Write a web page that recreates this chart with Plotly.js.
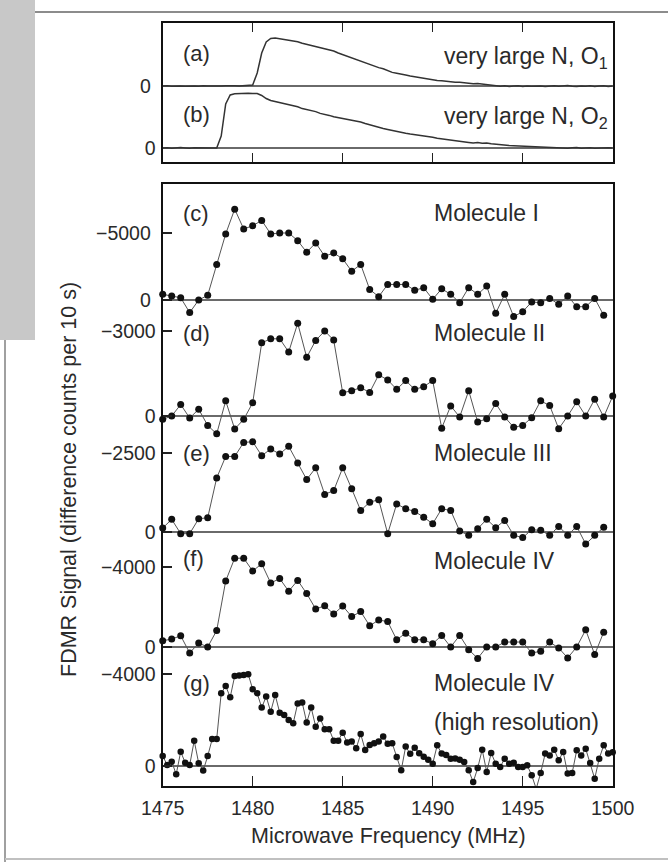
<!DOCTYPE html>
<html>
<head>
<meta charset="utf-8">
<script src="https://cdn.plot.ly/plotly-3.0.1.min.js"></script>
<style>
html,body{margin:0;padding:0;background:#ffffff;}
#chart{width:668px;height:862px;}
</style>
</head>
<body>
<div id="chart"></div>
<script>
// ---------------- DATA ----------------
// frequency grids (MHz)
const freqCoarse = [1475,1475.5,1476,1476.5,1477,1477.5,1478,1478.5,1479,1479.5,1480,1480.5,1481,1481.5,1482,1482.5,1483,1483.5,1484,1484.5,1485,1485.5,1486,1486.5,1487,1487.5,1488,1488.5,1489,1489.5,1490,1490.5,1491,1491.5,1492,1492.5,1493,1493.5,1494,1494.5,1495,1495.5,1496,1496.5,1497,1497.5,1498,1498.5,1499,1499.5,1500];
const freqFine = [1475,1475.25,1475.5,1475.75,1476,1476.25,1476.5,1476.75,1477,1477.25,1477.5,1477.75,1478,1478.25,1478.5,1478.75,1479,1479.25,1479.5,1479.75,1480,1480.25,1480.5,1480.75,1481,1481.25,1481.5,1481.75,1482,1482.25,1482.5,1482.75,1483,1483.25,1483.5,1483.75,1484,1484.25,1484.5,1484.75,1485,1485.25,1485.5,1485.75,1486,1486.25,1486.5,1486.75,1487,1487.25,1487.5,1487.75,1488,1488.25,1488.5,1488.75,1489,1489.25,1489.5,1489.75,1490,1490.25,1490.5,1490.75,1491,1491.25,1491.5,1491.75,1492,1492.25,1492.5,1492.75,1493,1493.25,1493.5,1493.75,1494,1494.25,1494.5,1494.75,1495,1495.25,1495.5,1495.75,1496,1496.25,1496.5,1496.75,1497,1497.25,1497.5,1497.75,1498,1498.25,1498.5,1498.75,1499,1499.25,1499.5,1499.75,1500];

// (a) very large N, O1  (arbitrary units, baseline 0)
const signalA = [0,0.3,-0.2,0.2,0,-0.3,0.2,0.1,-0.2,0.3,0,-0.2,0.2,0,0.3,-0.1,0.2,0,0.4,0.5,
1.0,13,33,44,47.5,48,47.3,46.5,45.8,44.8,44.2,42.8,41.7,40.8,39.4,38.0,37.5,35.8,35.0,33.0,31.3,30.2,28.5,26.8,25.0,23.4,21.6,20.2,18.4,17.2,15.3,13.6,12.8,11.6,11.0,10.0,9.2,8.5,7.6,7.0,6.3,5.5,5.2,4.6,4.5,3.8,3.7,3.0,2.6,2.3,2.5,1.8,1.6,0.9,0.4,-0.3,
0.2,-0.4,0,0.3,-0.5,0.1,-0.3,0.2,0,-0.6,0.2,0.3,-0.2,0,0.4,-0.3,-0.6,0.1,-0.2,0.3,-0.4,0,0.2,-0.5,0.1];

// (b) very large N, O2
const signalB = [0,0.3,-0.2,0.2,0.4,0,-0.3,0.2,0,0.3,-0.2,0.1,
0,12,44,53, 54.2,54.5,54.6,54.7, 54.6,54.4,52.5,49.5, 47.5,46.5,45.5,44.0, 43.3,42.0,41.2,39.4,
38.3,37.6,36.4,34.6, 33.9,32.6,31.2,30.4, 29.3,28.6,27.7,27.0, 26.0,24.5,23.3,21.4, 20.6,19.6,18.6,17.5,
16.8,15.7,14.7,13.9, 13.4,12.5,11.8,11.2, 10.7,9.8,9.1,8.5, 8.0,7.3,6.8,6.0, 5.6,5.0,5.4,4.8,
5.0,4.2,3.6,3.2, 3.0,2.4,2.2,2.0, 1.5,1.2,1.4,0.8, 0.6,0.2,0.5,-0.2, 0.3,0,-0.3,0.2, 0.4,-0.2,0,0.3,
-0.3,0.1,-0.2,0.2, 0];

// (c) Molecule I (difference counts per 10 s)
const moleculeI = [-420,-300,-170,940,0,-350,-2650,-4930,-6780,-5300,-5540,-5940,-4930,-5000,-5000,-4430,-3560,-4260,-3270,-3510,-3070,-2150,-2650,-790,-250,-1160,-1160,-1160,-720,-920,-50,-840,-420,200,-920,-420,-1040,990,-420,1240,870,150,200,-120,320,-300,500,500,-120,1140];

// (d) Molecule II
const moleculeII = [119,0,-405,71,-238,333,630,-535,460,119,-464,-2582,-2725,-2725,-2261,-3272,-2071,-2666,-3000,-2678,-821,-893,-1000,-833,-1452,-1273,-940,-1250,-940,-1035,-1250,430,-357,36,-893,214,95,-440,36,400,333,60,-535,-369,450,0,-500,0,-595,36,-702];

// (e) Molecule III
const moleculeIII = [-126,-400,52,52,-420,-450,-1710,-2390,-2390,-2835,-2856,-2415,-2625,-2470,-2710,-2180,-1660,-2030,-1190,-1310,-2030,-1365,-680,-945,-1020,52,-890,-735,-650,-470,-260,-735,-680,-30,105,-105,-400,-136,-367,105,178,-73,-52,105,-178,105,-178,380,100,-150];

// (f) Molecule IV
const moleculeIV = [-314,-396,-561,297,-198,0,-825,-3300,-4440,-4440,-3800,-4160,-3200,-3420,-2790,-3330,-2670,-1900,-2060,-1650,-2050,-1520,-1770,-1060,-1350,-1270,-363,-693,-363,-363,-165,-578,0,-578,132,570,0,0,-248,-248,-248,297,215,-248,50,545,0,-858,380,-743];

// (g) Molecule IV (high resolution)
const moleculeIVhr = [-440,-40,-190,360,-620,-145,-40,-1100,-120,200,-430,-1170,-1170,-3160,-3480,-2990,-3910,-3940,-3960,-3990,
-3340,-3160,-2540,-3020,-2360,-3090,-2320,-2220,-2000,-1860,-2720,-2760,-1890,-2540,-1710,-2070,-1600,-1600,-1100,-1100,
-1450,-1020,-1060,-770,-1390,-700,-910,-990,-1060,-1280,-970,-990,-390,190,-850,-530,-790,-550,-400,-270,
-100,-900,-540,-480,-320,-330,-270,-170,190,700,90,-710,260,-570,-100,40,-320,-100,-140,40,
40,-30,400,990,300,-540,-460,-710,-250,-610,330,300,-680,-460,-750,-130,550,-320,-900,-540,-600];

// tick labels
const xTickVals = [1475,1480,1485,1490,1495,1500];
const panelTicks = [
  {vals:[-5000,0], text:['\u22125000','0']},
  {vals:[-3000,0], text:['\u22123000','0']},
  {vals:[-2500,0], text:['\u22122500','0']},
  {vals:[-4000,0], text:['\u22124000','0']},
  {vals:[-4000,0], text:['\u22124000','0']}
];

// ---------------- LAYOUT GEOMETRY (pixels) ----------------
const W = 668, H = 862;
const X0 = 162.7, X1 = 612.7;
const TOP_T = 23, TOP_B = 162;
const LOW_T = 184, LOW_B = 786;
const px = v => v / W;
const py = v => 1 - v / H;
const FONT = 'Liberation Sans, Arial, Helvetica, sans-serif';
const TXT = '#2a2a2a';

// zero pixel and tick pixel for each lower panel
const panelPix = [
  {zero:300, tick:233},
  {zero:416, tick:331},
  {zero:532, tick:453},
  {zero:647, tick:567},
  {zero:766, tick:674}
];

function lowerRange(i){
  const p = panelPix[i];
  const s = panelTicks[i].vals[0] / (p.tick - p.zero); // units per px (downward positive)
  return [(LOW_B - p.zero) * s, (LOW_T - p.zero) * s];
}

const markerStyle = {color:'#111', size:7};
const lineStyle = {color:'#555', width:1};

const traces = [
  {x:freqFine, y:signalA, xaxis:'x', yaxis:'y', mode:'lines', line:{color:'#333', width:1.5}},
  {x:freqFine, y:signalB, xaxis:'x', yaxis:'y2', mode:'lines', line:{color:'#333', width:1.5}},
  {x:freqCoarse.slice(0, moleculeI.length), y:moleculeI, xaxis:'x2', yaxis:'y3', mode:'lines+markers', marker:markerStyle, line:lineStyle, cliponaxis:false},
  {x:freqCoarse.slice(0, moleculeII.length), y:moleculeII, xaxis:'x2', yaxis:'y4', mode:'lines+markers', marker:markerStyle, line:lineStyle, cliponaxis:false},
  {x:freqCoarse.slice(0, moleculeIII.length), y:moleculeIII, xaxis:'x2', yaxis:'y5', mode:'lines+markers', marker:markerStyle, line:lineStyle, cliponaxis:false},
  {x:freqCoarse.slice(0, moleculeIV.length), y:moleculeIV, xaxis:'x2', yaxis:'y6', mode:'lines+markers', marker:markerStyle, line:lineStyle, cliponaxis:false},
  {x:freqFine.slice(0, moleculeIVhr.length), y:moleculeIVhr, xaxis:'x2', yaxis:'y7', mode:'lines+markers', marker:{color:'#111', size:6.5}, line:lineStyle, cliponaxis:false}
];

const tickFont = {family:FONT, size:19.5, color:TXT};
const zeroCol = '#6a6a6a';

const layout = {
  width:W, height:H,
  margin:{l:0, r:0, t:0, b:0},
  paper_bgcolor:'#ffffff',
  plot_bgcolor:'rgba(0,0,0,0)',
  showlegend:false,
  font:{family:FONT, color:TXT},
  xaxis:{domain:[px(X0), px(X1)], anchor:'y', range:[1475,1500], tickvals:xTickVals, showticklabels:false,
         ticks:'inside', ticklen:9, tickwidth:1.5, tickcolor:'#222', showline:true, linewidth:2, linecolor:'#111', mirror:'ticks',
         showgrid:false, zeroline:false, fixedrange:true},
  yaxis:{domain:[py(TOP_B), py(TOP_T)], anchor:'x', range:[-(TOP_B-86), 86-TOP_T], tickvals:[0], ticktext:['0'], ticks:'',
         tickfont:tickFont, ticklabelstandoff:6, showline:true, linewidth:2, linecolor:'#111', mirror:true, showgrid:false,
         zeroline:true, zerolinecolor:zeroCol, zerolinewidth:1.5},
  yaxis2:{overlaying:'y', anchor:'x', side:'left', range:[-(TOP_B-148), 148-TOP_T], tickvals:[0], ticktext:['0'], ticks:'',
         tickfont:tickFont, ticklabelstandoff:6, showline:false, showgrid:false, zeroline:true, zerolinecolor:zeroCol, zerolinewidth:1.5},
  xaxis2:{domain:[px(X0), px(X1)], anchor:'y3', range:[1475,1500], tickvals:xTickVals, ticks:'inside', ticklen:10, tickwidth:1.5,
         tickcolor:'#222', tickfont:tickFont, ticklabelstandoff:4, showline:true, linewidth:2, linecolor:'#111', mirror:true,
         showgrid:false, zeroline:false},
  annotations:[],
  shapes:[]
};

for (let i = 0; i < 5; i++){
  const key = i === 0 ? 'yaxis3' : 'yaxis' + (i + 3);
  const ax = {
    anchor:'x2', side:'left', range:lowerRange(i),
    tickvals:panelTicks[i].vals, ticktext:panelTicks[i].text,
    ticks:'inside', ticklen:9, tickwidth:1.5, tickcolor:'#222', tickfont:tickFont, ticklabelstandoff:6,
    showgrid:false, zeroline:true, zerolinecolor:zeroCol, zerolinewidth:1.5
  };
  if (i === 0){
    ax.domain = [py(LOW_B), py(LOW_T)];
    ax.showline = true; ax.linewidth = 2; ax.linecolor = '#111'; ax.mirror = true;
  } else {
    ax.overlaying = 'y3'; ax.showline = false;
  }
  layout[key] = ax;
}

function ann(text, xp, yp, anchor, size, extra){
  return Object.assign({text:text, xref:'paper', yref:'paper', x:px(xp), y:py(yp), xanchor:anchor, yanchor:'middle',
    showarrow:false, font:{family:FONT, size:size, color:TXT}}, extra || {});
}
const LBL = 22, MOL = 23;
layout.annotations.push(
  ann('(a)', 181, 54, 'left', LBL),
  ann('very large N, O<sub>1</sub>', 610, 57, 'right', MOL),
  ann('(b)', 181, 114, 'left', LBL),
  ann('very large N, O<sub>2</sub>', 610, 118, 'right', MOL),
  ann('(c)', 181, 213, 'left', LBL),
  ann('Molecule I', 432, 213, 'left', MOL),
  ann('(d)', 181, 333, 'left', LBL),
  ann('Molecule II', 432, 333, 'left', MOL),
  ann('(e)', 181, 453, 'left', LBL),
  ann('Molecule III', 432, 453, 'left', MOL),
  ann('(f)', 181, 558, 'left', LBL),
  ann('Molecule IV', 432, 561, 'left', MOL),
  ann('(g)', 181, 683, 'left', LBL),
  ann('Molecule IV', 432, 683, 'left', MOL),
  ann('(high resolution)', 432, 722, 'left', MOL),
  ann('Microwave Frequency (MHz)', 388, 836, 'center', 21.5),
  ann('FDMR Signal (difference counts per 10 s)', 69, 480, 'center', 21.5, {textangle:-90})
);

// page decorations of the scanned figure
layout.shapes.push(
  {type:'rect', xref:'paper', yref:'paper', x0:px(0), x1:px(35), y0:py(340), y1:py(0), fillcolor:'#c8c8c8', line:{width:0}, layer:'below'},
  {type:'line', xref:'paper', yref:'paper', x0:px(35), x1:px(668), y0:py(12), y1:py(12), line:{color:'#8c8c8c', width:2}},
  {type:'line', xref:'paper', yref:'paper', x0:px(5), x1:px(5), y0:py(340), y1:py(862), line:{color:'#a0a0a0', width:2}},
  {type:'line', xref:'paper', yref:'paper', x0:px(5), x1:px(668), y0:py(859), y1:py(859), line:{color:'#c0c0c0', width:2}}
);

Plotly.newPlot('chart', traces, layout, {displayModeBar:false, staticPlot:true});
</script>
</body>
</html>
